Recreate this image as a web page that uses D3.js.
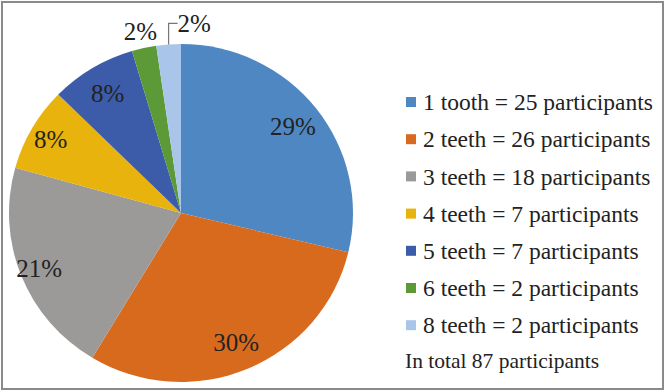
<!DOCTYPE html>
<html>
<head>
<meta charset="utf-8">
<script src="https://cdn.jsdelivr.net/npm/d3@7"></script>
<style>
  body { margin: 0; background: #fff; }
</style>
</head>
<body>
<div id="wrapper"></div>
<script>
const categories = ["1 tooth", "2 teeth", "3 teeth", "4 teeth", "5 teeth", "6 teeth", "8 teeth"];
const participants = [25, 26, 18, 7, 7, 2, 2];
const percentLabels = ["29%", "30%", "21%", "8%", "8%", "2%", "2%"];
const colors = ["#4f87c2", "#d86a1e", "#9c9a99", "#e8b30c", "#3c5ca9", "#5b9a37", "#a9c5ea"];
const totalLabel = "In total 87 participants";

function drawChart() {
  const width = 666;
  const height = 392;

  const data = categories.map((c, i) => ({
    category: c,
    value: participants[i],
    label: percentLabels[i],
    color: colors[i],
  }));

  const svg = d3.select("#wrapper")
    .append("svg")
    .attr("width", width)
    .attr("height", height)
    .attr("font-family", "Liberation Serif, Tinos, Times New Roman, DejaVu Serif, serif")
    .attr("fill", "#222");

  // outer frame
  svg.append("rect")
    .attr("x", 2).attr("y", 2)
    .attr("width", 661).attr("height", 387)
    .attr("fill", "none")
    .attr("stroke", "#8a8a8a")
    .attr("stroke-width", 2);

  const cx = 181, cy = 213;
  const ry = 169, rx = 172;
  const sx = rx / ry;

  const pie = d3.pie().value((d) => d.value).sort(null);
  const arcs = pie(data);
  const arc = d3.arc().innerRadius(0).outerRadius(ry);

  const bounds = svg.append("g").attr("transform", `translate(${cx},${cy})`);

  bounds.append("g")
    .attr("transform", `scale(${sx},1)`)
    .selectAll("path")
    .data(arcs)
    .join("path")
    .attr("d", arc)
    .attr("fill", (d) => d.data.color);

  const labelRadius = [140, 140, 150, 148, 140];
  const mid = (d) => (d.startAngle + d.endAngle) / 2;
  const pt = (angle, r) => [Math.sin(angle) * r * sx, -Math.cos(angle) * r];

  // inside labels
  arcs.slice(0, 5).forEach((d, i) => {
    const [x, y] = pt(mid(d), labelRadius[i]);
    bounds.append("text")
      .attr("x", x).attr("y", y)
      .attr("dy", "0.35em")
      .attr("text-anchor", "middle")
      .attr("font-size", 25)
      .text(d.data.label);
  });

  // green slice label outside
  {
    const d = arcs[5];
    const [x, y] = pt(mid(d), 186);
    bounds.append("text")
      .attr("x", x).attr("y", y)
      .attr("dy", "0.35em")
      .attr("text-anchor", "middle")
      .attr("font-size", 25)
      .text(d.data.label);
  }

  // light blue slice label with leader line
  {
    const d = arcs[6];
    const [x1, y1] = pt(mid(d), ry);
    const yTop = y1 - 21;
    bounds.append("path")
      .attr("d", `M${x1},${y1}V${yTop}H${x1 + 9}`)
      .attr("fill", "none")
      .attr("stroke", "#777")
      .attr("stroke-width", 1.2);
    bounds.append("text")
      .attr("x", x1 + 9).attr("y", yTop)
      .attr("dy", "0.35em")
      .attr("font-size", 25)
      .text(d.data.label);
  }

  // legend
  const legend = svg.append("g").attr("transform", "translate(406,102)");
  const rowHeight = 37.2;
  const rows = legend.selectAll("g")
    .data(data)
    .join("g")
    .attr("transform", (d, i) => `translate(0,${i * rowHeight})`);
  rows.append("rect")
    .attr("x", 0).attr("y", -5)
    .attr("width", 10).attr("height", 10)
    .attr("fill", (d) => d.color);
  rows.append("text")
    .attr("x", 17).attr("y", 0)
    .attr("dy", "0.35em")
    .attr("font-size", 23.5)
    .text((d) => `${d.category} = ${d.value} participants`);

  legend.append("text")
    .attr("x", -1).attr("y", 7 * rowHeight - 2)
    .attr("dy", "0.35em")
    .attr("font-size", 21.5)
    .text(totalLabel);
}

drawChart();
</script>
</body>
</html>
